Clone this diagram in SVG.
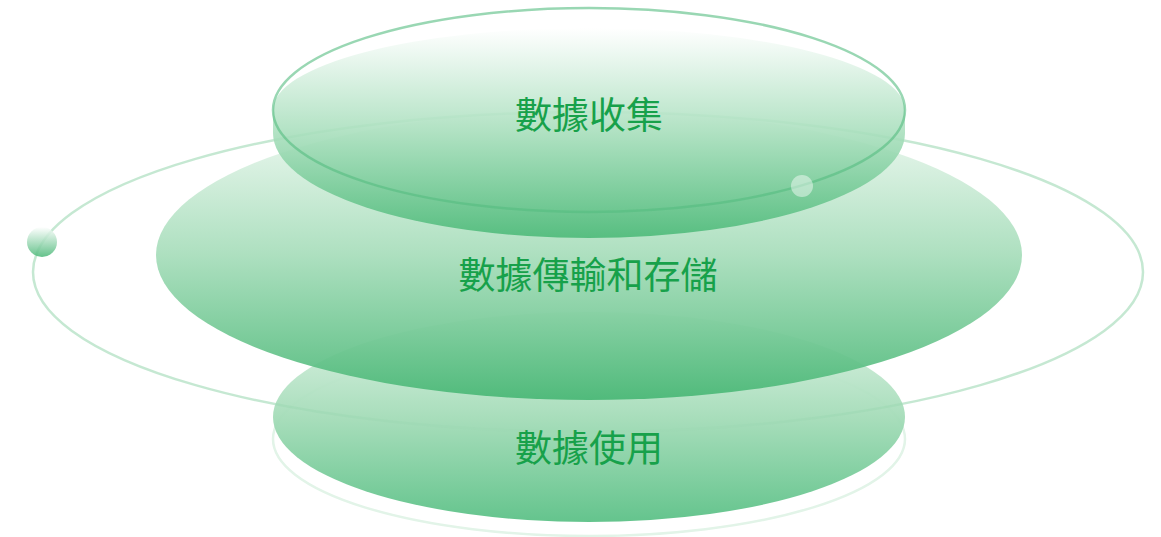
<svg xmlns="http://www.w3.org/2000/svg" width="1161" height="537" viewBox="0 0 1161 537">
<defs>
<linearGradient id="gTop" x1="0" y1="0" x2="0" y2="1">
<stop offset="0" stop-color="#ffffff"/>
<stop offset="0.5" stop-color="#a9dfbd"/>
<stop offset="1" stop-color="#4dba79"/>
</linearGradient>
<linearGradient id="gMid" x1="0" y1="0" x2="0" y2="1">
<stop offset="0" stop-color="#f2faf4"/>
<stop offset="0.5" stop-color="#a6ddba"/>
<stop offset="1" stop-color="#48b775"/>
</linearGradient>
<linearGradient id="gBot" x1="0" y1="0" x2="0" y2="1">
<stop offset="0" stop-color="#e2f4e8"/>
<stop offset="0.5" stop-color="#a4dcb8"/>
<stop offset="1" stop-color="#5cc187"/>
</linearGradient>
<linearGradient id="gBall" x1="0" y1="0" x2="0" y2="1">
<stop offset="0" stop-color="#ffffff"/>
<stop offset="1" stop-color="#49b776"/>
</linearGradient>
<style>
.lbl{font-family:"Noto Sans CJK TC","Noto Sans CJK SC",sans-serif;font-size:37px;fill:#17a14a;text-anchor:middle}
</style>
</defs>
<g id="bottom-ring">
<ellipse cx="589" cy="439" rx="316" ry="97" fill="none" stroke="#e2f4e8" stroke-width="2.5"/>
</g>
<g id="node-use">
<ellipse cx="589" cy="417" rx="316" ry="105" fill="url(#gBot)" opacity="0.95"/>
</g>
<g id="node-transfer">
<ellipse cx="589" cy="255" rx="433" ry="145" fill="url(#gMid)" opacity="0.92"/>
</g>
<g id="connectors">
<ellipse cx="588" cy="272" rx="555" ry="160" fill="none" stroke="#9fd8b4" stroke-width="2.5" opacity="0.6"/>
</g>
<g id="node-collect">
<path d="M273,110 A316,82 0 0 1 905,110 L905,133 A316,105 0 0 1 273,133 Z" fill="url(#gTop)" opacity="0.9"/>
<ellipse cx="589" cy="110" rx="316" ry="102" fill="none" stroke="#55bd80" stroke-width="2.5" opacity="0.6"/>
</g>
<g id="balls">
<circle cx="42" cy="242" r="15" fill="url(#gBall)" opacity="0.85"/>
<circle cx="802" cy="186" r="11" fill="#ffffff" opacity="0.45"/>
</g>
<g id="labels">
<text class="lbl" x="589" y="129">數據收集</text>
<text class="lbl" x="588" y="289">數據傳輸和存儲</text>
<text class="lbl" x="589" y="462">數據使用</text>
</g>
</svg>
